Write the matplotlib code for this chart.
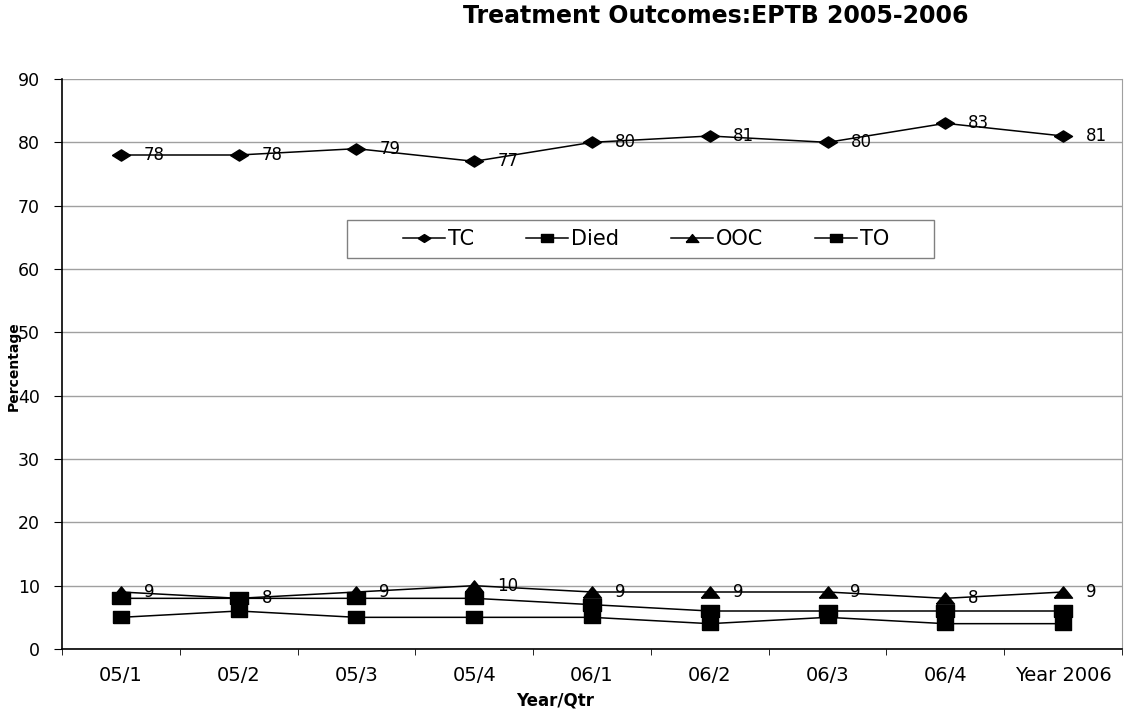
import matplotlib.pyplot as plt
from matplotlib.patches import Rectangle
import numpy as np

plt.rcParams['font.family'] = ['DejaVu Sans']

quarters = ['05/1', '05/2', '05/3', '05/4', '06/1', '06/2', '06/3', '06/4', 'Year 2006']
tc = [78, 78, 79, 77, 80, 81, 80, 83, 81]
died = [8, 8, 8, 8, 7, 6, 6, 6, 6]
ooc = [9, 8, 9, 10, 9, 9, 9, 8, 9]
to = [5, 6, 5, 5, 5, 4, 5, 4, 4]

W, H = 1128, 713
x = np.arange(len(quarters))

# markers are a bit wider than tall in the original
diamond = [(-1.6, 0), (0, 1), (1.6, 0), (0, -1), (-1.6, 0)]
square = [(-1.5, -1), (1.5, -1), (1.5, 1), (-1.5, 1), (-1.5, -1)]
triangle = [(-1.6, -1), (1.6, -1), (0, 1), (-1.6, -1)]

fig = plt.figure(figsize=(W / 100, H / 100), dpi=100)
ax = fig.add_axes([62 / W, 1 - 649 / H, 1060 / W, 570 / H])

ax.plot(x, tc, color='black', lw=1.1, marker=diamond, ms=13, label='TC')
ax.plot(x, died, color='black', lw=1.1, marker=square, ms=13, label='Died')
ax.plot(x, ooc, color='black', lw=1.1, marker=triangle, ms=13, label='OOC')
ax.plot(x, to, color='black', lw=1.1, marker=square, ms=12, label='TO')

for series in (tc, ooc):
    for xi, v in zip(x, series):
        ax.annotate(str(v), (xi, v), xytext=(16.5, 0), textcoords='offset points',
                    ha='left', va='center', fontsize=12)

ax.set_xlim(-0.5, len(quarters) - 0.5)
ax.set_ylim(0, 90)
ax.set_yticks(range(0, 91, 10))
ax.tick_params(axis='y', labelsize=12.5, length=6, direction='out', pad=10)
ax.set_xticks(x)
ax.set_xticklabels(quarters, fontsize=14)
ax.set_xticks(np.arange(-0.5, len(quarters), 1), minor=True)
ax.tick_params(axis='x', which='major', length=0, pad=12)
ax.tick_params(axis='x', which='minor', length=4, direction='out')

ax.grid(axis='y', color='#a0a0a0', lw=1)
ax.set_axisbelow(True)
ax.spines['top'].set_visible(False)
ax.spines['right'].set_color('#a0a0a0')
ax.spines['left'].set_linewidth(1.2)
ax.spines['bottom'].set_linewidth(1.2)

fig.text(555 / W, 1 - 700 / H, 'Year/Qtr', ha='center', va='center',
         fontsize=12, fontweight='bold')
fig.text(14 / W, 1 - 366 / H, 'Percentage', ha='center', va='center',
         rotation=90, fontsize=10, fontweight='bold')
fig.text(716 / W, 1 - 16 / H, 'Treatment Outcomes:EPTB 2005-2006',
         ha='center', va='center', fontsize=17, fontweight='bold')

# legend box
ax.add_patch(Rectangle(((347 - 62) / 1060, (649 - 258) / 570), 587 / 1060, 38 / 570,
                       transform=ax.transAxes, fill=True, facecolor='white',
                       edgecolor='#808080', lw=1, zorder=4))
leg = ax.legend(ncol=4, loc='center', bbox_to_anchor=((646 - 62) / 1060, (649 - 239) / 570),
                frameon=False, fontsize=15, handlelength=2.0, handletextpad=0.15,
                columnspacing=2.5, markerscale=0.7, borderaxespad=0)
leg.set_zorder(5)

fig.savefig('out.png', dpi=100)
